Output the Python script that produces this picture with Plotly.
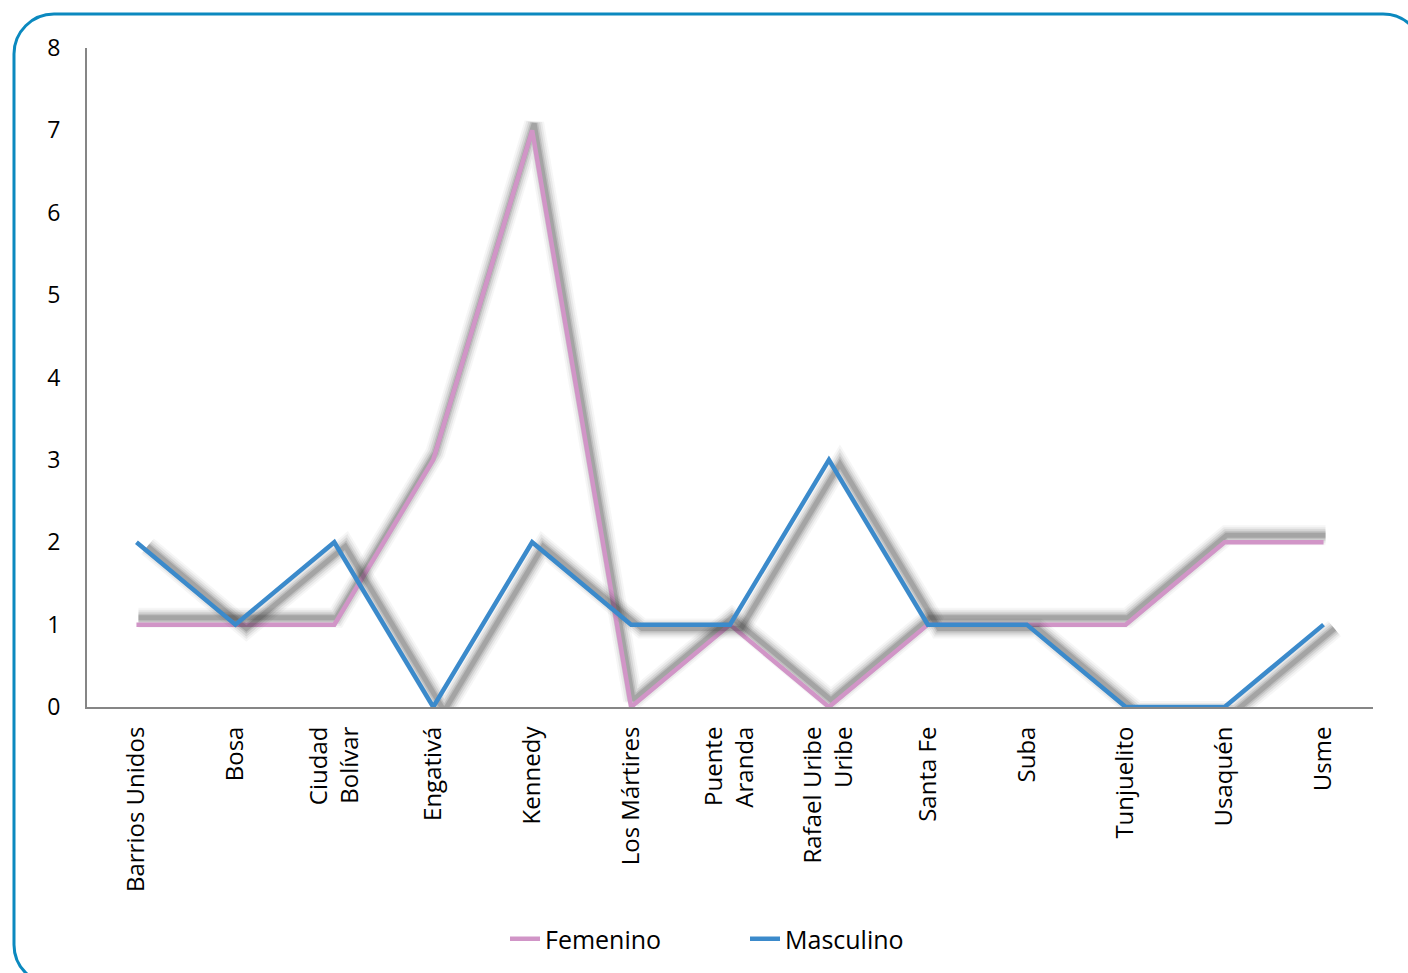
import plotly.graph_objects as go

categories = ["Barrios Unidos", "Bosa", "Ciudad<br>Bolívar", "Engativá", "Kennedy",
              "Los Mártires", "Puente<br>Aranda", "Rafael Uribe<br>Uribe", "Santa Fe",
              "Suba", "Tunjuelito", "Usaquén", "Usme"]
femenino = [1, 1, 1, 3, 7, 0, 1, 0, 1, 1, 1, 2, 2]
masculino = [2, 1, 2, 0, 2, 1, 1, 3, 1, 1, 0, 0, 1]
y_ticks = [0, 1, 2, 3, 4, 5, 6, 7, 8]

W, H = 1408, 973
ML, MR, MT, MB = 87, 35, 48, 265
PW, PH = W - ML - MR, H - MT - MB
n = len(categories)
px_x = PW / n          # pixels per category unit
px_y = PH / 8          # pixels per value unit

FONT = "Open Sans"
xs = list(range(n))

fig = go.Figure()

def add_series(name, vals, color, sdx, sdy):
    # soft blurred drop shadow (pixel offset sdx, sdy; +y = down)
    sx = [x + sdx / px_x for x in xs]
    sy = [v - sdy / px_y for v in vals]
    for w, a in [(20, 0.045), (16, 0.07), (12, 0.10), (8, 0.14), (5, 0.18)]:
        fig.add_trace(go.Scatter(
            x=sx, y=sy, mode="lines",
            line=dict(color=f"rgba(50,50,50,{a})", width=w),
            showlegend=False, hoverinfo="skip"))
    fig.add_trace(go.Scatter(x=xs, y=vals, mode="lines", name=name,
                             line=dict(color=color, width=4.5)))

add_series("Femenino", femenino, "#D195C7", 2, -7)
add_series("Masculino", masculino, "#3B8ACB", 11, 4)

# rounded border
def P(px, py):
    return f"{(px - ML) / PW:.5f},{(H - MB - py) / PH:.5f}"

L, T, R, B, r = 14, 14, 1423, 986, 40
k = 0.5523
path = (f"M {P(L, T + r)} C {P(L, T + r - k*r)} {P(L + r - k*r, T)} {P(L + r, T)} "
        f"L {P(R - r, T)} C {P(R - r + k*r, T)} {P(R, T + r - k*r)} {P(R, T + r)} "
        f"L {P(R, B - r)} C {P(R, B - r + k*r)} {P(R - r + k*r, B)} {P(R - r, B)} "
        f"L {P(L + r, B)} C {P(L + r - k*r, B)} {P(L, B - r + k*r)} {P(L, B - r)} Z")
fig.add_shape(type="path", path=path, xref="paper", yref="paper",
              line=dict(color="#0B89BF", width=3), layer="below")

fig.update_layout(
    width=W, height=H,
    margin=dict(l=ML, r=MR, t=MT, b=MB),
    paper_bgcolor="white", plot_bgcolor="white",
    font=dict(family=FONT, size=22, color="black"),
    showlegend=True,
    legend=dict(orientation="h", x=(505 - ML) / PW, xanchor="left",
                y=(H - MB - 939) / PH, yanchor="middle",
                font=dict(family=FONT, size=25, color="black"),
                traceorder="normal", entrywidth=195, entrywidthmode="pixels"),
    xaxis=dict(
        tickmode="array", tickvals=xs, ticktext=categories,
        range=[-0.5, n - 0.5], tickangle=-90, showgrid=False, zeroline=False,
        showline=True, linecolor="#868686", linewidth=2, ticks="",
        ticklabelstandoff=8, tickfont=dict(family=FONT, size=24, color="black")),
    yaxis=dict(
        range=[0, 8], tickvals=y_ticks, showgrid=False, zeroline=False,
        showline=True, linecolor="#868686", linewidth=2, ticks="",
        ticklabelstandoff=20, tickfont=dict(family=FONT, size=23, color="black")),
)

fig.write_html("out.html", post_script="document.body.style.margin='0';",
               config={"displayModeBar": False})
